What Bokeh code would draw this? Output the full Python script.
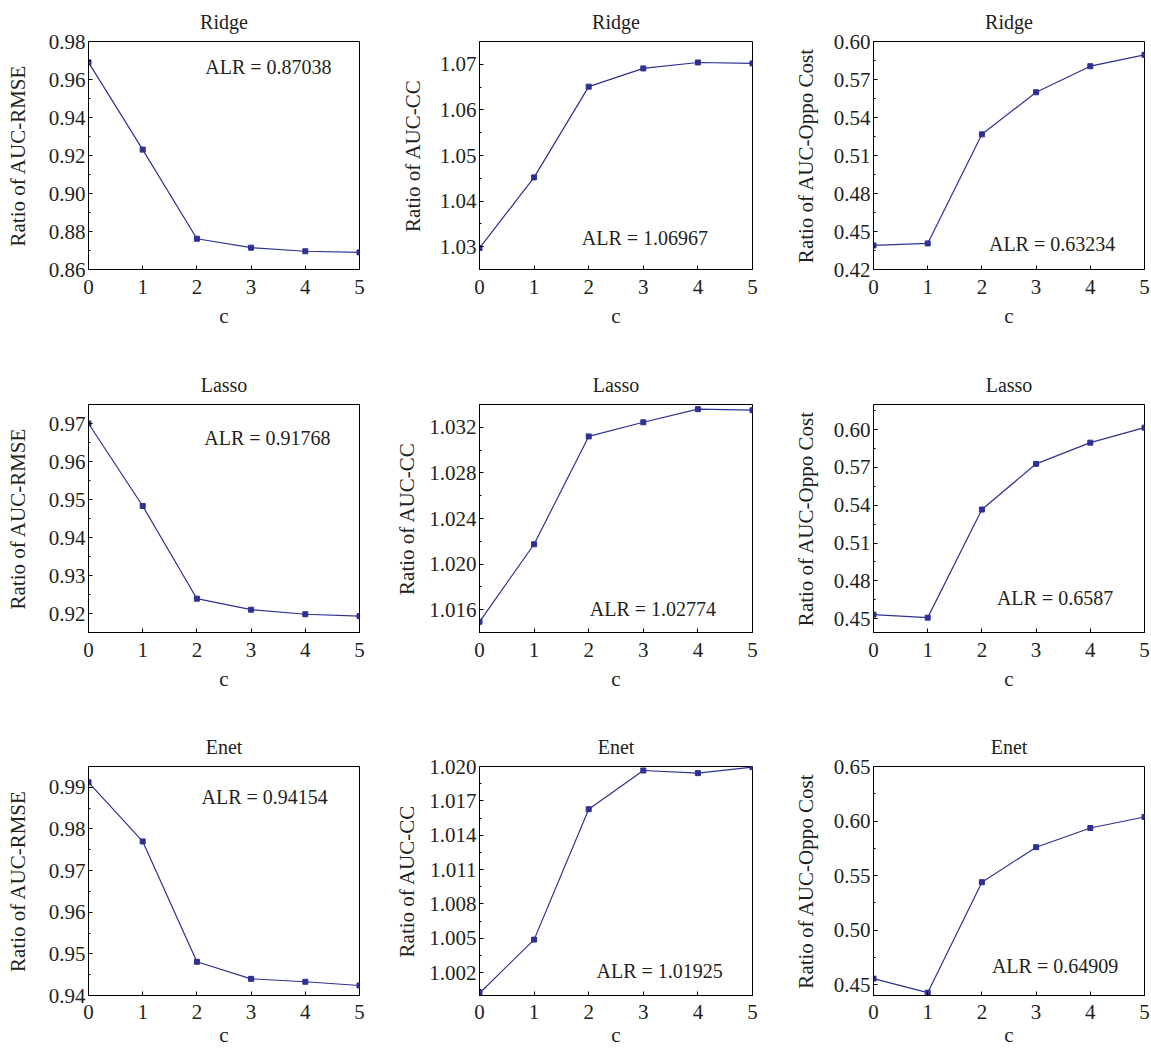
from bokeh.plotting import figure
from bokeh.layouts import gridplot
from bokeh.models import Label, FixedTicker, PrintfTickFormatter, Range1d
from bokeh.embed import file_html
from bokeh.resources import INLINE

# ---------------- data ----------------
c_values = [0, 1, 2, 3, 4, 5]
methods = ["Ridge", "Lasso", "Enet"]
metric_labels = ["Ratio of AUC-RMSE", "Ratio of AUC-CC", "Ratio of AUC-Oppo Cost"]

ridge_rmse = [0.9690, 0.9231, 0.8762, 0.8715, 0.8696, 0.8690]
ridge_cc = [1.0297, 1.0452, 1.0651, 1.0691, 1.0704, 1.0702]
ridge_oppo = [0.4390, 0.4406, 0.5267, 0.5599, 0.5805, 0.5895]
lasso_rmse = [0.9700, 0.9483, 0.9239, 0.9210, 0.9198, 0.9193]
lasso_cc = [1.01494, 1.02174, 1.03120, 1.03244, 1.03359, 1.03350]
lasso_oppo = [0.4532, 0.4508, 0.5366, 0.5729, 0.5897, 0.6016]
enet_rmse = [0.9912, 0.9770, 0.9481, 0.9440, 0.9433, 0.9424]
enet_cc = [1.0002, 1.00488, 1.01627, 1.01965, 1.01942, 1.01994]
enet_oppo = [0.4555, 0.4426, 0.5439, 0.5760, 0.5936, 0.6037]

alr_ridge = ["0.87038", "1.06967", "0.63234"]
alr_lasso = ["0.91768", "1.02774", "0.6587"]
alr_enet = ["0.94154", "1.01925", "0.64909"]

ticks_ridge_rmse = [0.86, 0.88, 0.90, 0.92, 0.94, 0.96, 0.98]
ticks_ridge_cc = [1.03, 1.04, 1.05, 1.06, 1.07]
ticks_ridge_oppo = [0.42, 0.45, 0.48, 0.51, 0.54, 0.57, 0.60]
ticks_lasso_rmse = [0.92, 0.93, 0.94, 0.95, 0.96, 0.97]
ticks_lasso_cc = [1.016, 1.020, 1.024, 1.028, 1.032]
ticks_lasso_oppo = [0.45, 0.48, 0.51, 0.54, 0.57, 0.60]
ticks_enet_rmse = [0.94, 0.95, 0.96, 0.97, 0.98, 0.99]
ticks_enet_cc = [1.002, 1.005, 1.008, 1.011, 1.014, 1.017, 1.020]
ticks_enet_oppo = [0.45, 0.50, 0.55, 0.60, 0.65]

ylim_ridge = [(0.86, 0.98), (1.025, 1.075), (0.42, 0.60)]
ylim_lasso = [(0.915, 0.975), (1.014, 1.034), (0.439, 0.620)]
ylim_enet = [(0.94, 0.995), (1.000, 1.020), (0.44, 0.65)]

# ---------------- layout / style ----------------
series = [[ridge_rmse, ridge_cc, ridge_oppo],
          [lasso_rmse, lasso_cc, lasso_oppo],
          [enet_rmse, enet_cc, enet_oppo]]
alrs = [alr_ridge, alr_lasso, alr_enet]
ticks = [[ticks_ridge_rmse, ticks_ridge_cc, ticks_ridge_oppo],
         [ticks_lasso_rmse, ticks_lasso_cc, ticks_lasso_oppo],
         [ticks_enet_rmse, ticks_enet_cc, ticks_enet_oppo]]
ylims = [ylim_ridge, ylim_lasso, ylim_enet]
fmts = [["%.2f", "%.2f", "%.2f"], ["%.2f", "%.3f", "%.2f"], ["%.2f", "%.3f", "%.2f"]]
ylab_standoff = [[16, 12, 13], [16, 7, 13], [16, 7, 13]]

# ALR label placement: (fraction of frame width, px from frame top)
alr_pos = [[(0.664, 25), (0.606, 196), (0.659, 202)],
           [(0.660, 33), (0.635, 204), (0.670, 193)],
           [(0.650, 30), (0.660, 204), (0.670, 199)]]

FW = [271, 273, 271]
MBR = [32, 33, 7]
FH = [228, 228, 229]
MBB = [94, 93, 58]

LINE = "#2E3192"
TXT = "#231F20"
SERIF = "Liberation Serif"

figs = []
for r in range(3):
    row = []
    for ci in range(3):
        lo, hi = ylims[r][ci]
        p = figure(frame_width=FW[ci], frame_height=FH[r],
                   x_range=Range1d(0, 5), y_range=Range1d(lo, hi),
                   output_backend="svg", toolbar_location=None,
                   min_border_left=88, min_border_right=MBR[ci],
                   min_border_top=41, min_border_bottom=MBB[r],
                   title=methods[r])
        p.title.align = "center"
        p.title.text_font = SERIF
        p.title.text_font_size = "20px"
        p.title.text_font_style = "normal"
        p.title.text_color = TXT
        p.title.standoff = 17
        p.grid.visible = False
        p.outline_line_color = "black"
        p.outline_line_width = 1

        yt = ticks[r][ci]
        step = yt[1] - yt[0]
        minors = [t + step / 2 for t in yt[:-1]]
        if yt[0] - step / 2 >= lo - 1e-9:
            minors.insert(0, yt[0] - step / 2)
        if yt[-1] + step / 2 <= hi + 1e-9:
            minors.append(yt[-1] + step / 2)

        p.xaxis.ticker = FixedTicker(ticks=c_values)
        p.yaxis.ticker = FixedTicker(ticks=yt, minor_ticks=minors)
        p.yaxis.formatter = PrintfTickFormatter(format=fmts[r][ci])
        p.xaxis.axis_label = "c"
        p.yaxis.axis_label = metric_labels[ci]
        for ax in (p.xaxis, p.yaxis):
            ax.axis_line_color = "black"
            ax.major_tick_line_color = "black"
            ax.major_tick_in = 4
            ax.major_tick_out = 0
            ax.minor_tick_in = 2
            ax.minor_tick_out = 0
            ax.major_label_text_font = SERIF
            ax.major_label_text_font_size = "21px"
            ax.major_label_text_color = TXT
            ax.axis_label_text_font = SERIF
            ax.axis_label_text_font_size = "21px"
            ax.axis_label_text_font_style = "normal"
            ax.axis_label_text_color = TXT
        p.yaxis.minor_tick_line_color = "black"
        p.xaxis.major_label_standoff = 10 if r < 2 else 9
        p.xaxis.axis_label_standoff = 7 if r < 2 else 1
        p.yaxis.major_label_standoff = 3
        p.yaxis.axis_label_standoff = ylab_standoff[r][ci]

        vals = series[r][ci]
        p.line(c_values, vals, line_color=LINE, line_width=1.2)
        p.scatter(c_values, vals, marker="square", size=5, fill_color=LINE, line_color=LINE)

        fx, off = alr_pos[r][ci]
        ly = hi - off / FH[r] * (hi - lo)
        p.add_layout(Label(x=fx * 5.0, y=ly, text="ALR = " + alrs[r][ci],
                           text_font=SERIF, text_font_size="20px", text_color=TXT,
                           text_align="center", text_baseline="middle"))
        row.append(p)
    figs.append(row)

grid = gridplot(figs, toolbar_location=None)
open("out.html", "w").write(file_html(grid, INLINE))
